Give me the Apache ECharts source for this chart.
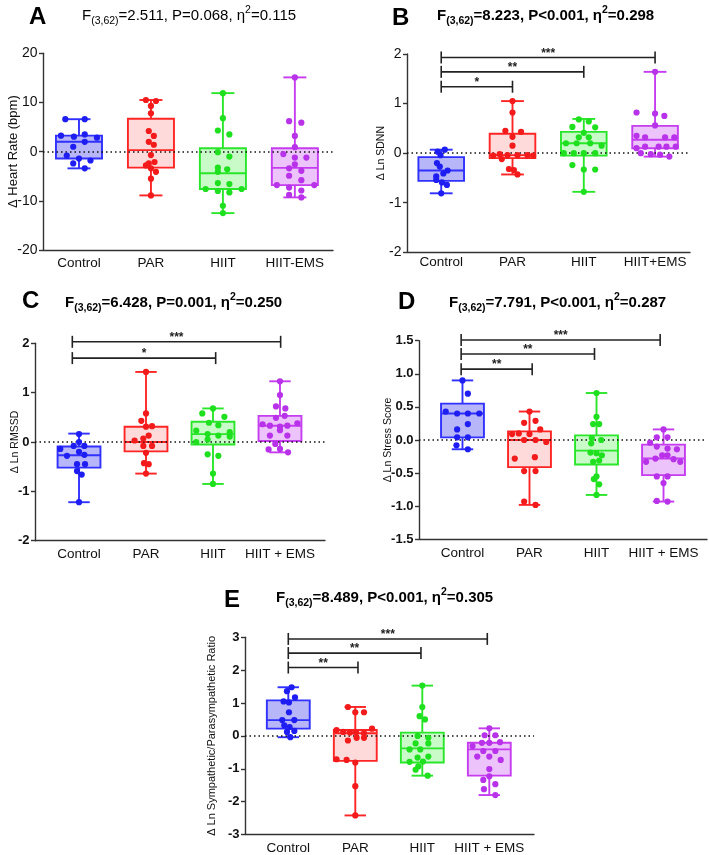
<!DOCTYPE html>
<html><head><meta charset="utf-8">
<script src="https://cdn.jsdelivr.net/npm/echarts@6/dist/echarts.min.js"></script>
<style>html,body{margin:0;padding:0;background:#fff}#c{width:709px;height:855px}</style>
</head><body><div id="c"></div>
<script>
// ---------------- DATA ----------------
const A_cats = ['Control','PAR','HIIT','HIIT-EMS'];
const B_cats = ['Control','PAR','HIIT','HIIT+EMS'];
const C_cats = ['Control','PAR','HIIT','HIIT + EMS'];
const D_cats = ['Control','PAR','HIIT','HIIT + EMS'];
const E_cats = ['Control','PAR','HIIT','HIIT + EMS'];

// box stats per group: [min, q1, median, q3, max]
const A_box = [[-3.4,-1.4,2.0,3.25,6.6],[-8.9,-3.25,0.3,6.7,10.5],[-12.5,-7.6,-4.4,0.7,11.9],[-9.3,-6.8,-3.3,0.7,15.1]];
const B_box = [[-0.81,-0.56,-0.35,-0.08,0.07],[-0.43,-0.1,-0.04,0.39,1.05],[-0.78,-0.05,0.2,0.43,0.69],[-0.07,0.1,0.27,0.55,1.64]];
const C_box = [[-1.22,-0.52,-0.27,-0.09,0.17],[-0.64,-0.19,0.0,0.31,1.42],[-0.85,-0.05,0.16,0.41,0.68],[-0.21,0.02,0.33,0.53,1.23]];
const D_box = [[-0.14,0.04,0.4,0.55,0.9],[-0.98,-0.41,0.0,0.13,0.43],[-0.83,-0.37,-0.16,0.07,0.71],[-0.93,-0.53,-0.28,-0.07,0.16]];
const E_box = [[-0.04,0.22,0.48,1.08,1.48],[-2.42,-0.76,0.08,0.18,0.88],[-1.21,-0.81,-0.38,0.1,1.53],[-1.8,-1.21,-0.41,-0.21,0.23]];

// individual values per group
const A_vals = [
 [6.6,6.6,3.25,3.05,3.5,2.85,2.0,1.0,-0.8,-1.4,-1.8,-2.4,-3.4],
 [10.5,10.3,9.3,7.8,4.2,3.2,2.0,1.4,-0.7,-2.1,-2.8,-2.4,-4.1,-3.4,-5.5,-8.9],
 [11.9,6.8,4.3,3.5,-0.1,-1.0,-3.25,-3.6,-4.1,-6.4,-6.6,-7.6,-8.0,-8.3,-7.6,-11.0,-12.5],
 [15.1,6.2,5.9,3.2,0.9,-0.5,-1.2,-1.2,-2.6,-3.4,-3.9,-4.9,-5.8,-6.8,-6.8,-7.3,-7.9,-8.8,-9.3]
];
const B_vals = [
 [0.07,0.03,-0.04,-0.2,-0.35,-0.41,-0.47,-0.54,-0.59,-0.64,-0.81,-0.27],
 [1.05,0.82,0.45,0.43,0.33,0.15,-0.05,-0.02,-0.04,-0.04,-0.04,-0.05,-0.12,-0.32,-0.34,-0.43],
 [0.68,0.64,0.53,0.52,0.41,0.32,0.32,0.2,0.2,0.2,0.15,0.0,0.0,0.0,0.0,-0.24,-0.33,-0.33,-0.78],
 [1.64,0.82,0.8,0.75,0.56,0.35,0.32,0.32,0.32,0.1,0.13,0.13,0.13,0.13,0.0,-0.02,-0.03,-0.07]
];
const C_vals = [
 [0.16,0.0,-0.08,-0.08,-0.14,-0.2,-0.26,-0.28,-0.45,-0.45,-0.59,-0.66,-1.22],
 [1.42,0.58,0.43,0.31,0.32,0.13,0.07,0.03,-0.08,-0.08,-0.22,-0.43,-0.45,-0.64],
 [0.68,0.58,0.51,0.39,0.34,0.23,0.16,0.13,0.2,0.11,0.0,0.05,-0.25,-0.28,-0.64,-0.85],
 [1.23,0.95,0.72,0.68,0.49,0.53,0.36,0.33,0.31,0.33,0.38,0.24,0.13,0.13,-0.04,-0.14,-0.21,-0.15]
];
const D_vals = [
 [0.9,0.7,0.43,0.4,0.4,0.4,0.24,0.16,0.04,0.04,-0.08,-0.14],
 [0.43,0.29,0.26,0.16,0.09,0.1,0.09,0.0,0.0,-0.03,-0.28,-0.26,-0.47,-0.47,-0.93,-0.98],
 [0.71,0.35,0.24,0.24,0.03,0.0,-0.05,-0.19,-0.2,-0.23,-0.33,-0.31,-0.55,-0.59,-0.67,-0.83],
 [0.16,0.04,0.04,-0.04,-0.1,-0.13,-0.14,-0.23,-0.23,-0.33,-0.28,-0.29,-0.33,-0.55,-0.55,-0.65,-0.92,-0.93]
];
const E_vals = [
 [1.48,1.36,1.17,1.05,1.02,0.72,0.48,0.48,0.32,0.27,0.12,0.15,-0.04],
 [0.88,0.72,0.72,0.18,0.12,0.1,0.1,0.08,0.22,-0.14,-0.06,-0.06,-0.71,-0.73,-0.81,-1.53,-2.42],
 [1.53,0.88,0.6,0.5,0.0,-0.06,-0.23,-0.23,-0.41,-0.41,-0.63,-0.66,-0.79,-0.78,-0.93,-1.03,-1.21],
 [0.23,0.02,0.02,-0.31,-0.21,-0.21,-0.19,-0.63,-0.63,-0.46,-0.46,-0.73,-1.01,-1.23,-1.34,-1.47,-1.62,-1.8]
];

// horizontal jitter of each point (category units)
const A_jit = [
 [-0.19,0.08,-0.25,-0.07,0.08,0.25,0.08,-0.08,-0.17,0.0,0.16,-0.08,0.08],
 [-0.07,0.07,0,0,-0.03,0.04,-0.03,0.04,0,0.05,-0.07,-0.03,0.07,0,0,0],
 [0,0,-0.07,0.09,-0.07,0.09,-0.07,0.06,-0.07,-0.07,0.09,-0.24,-0.07,0.09,0.26,0,0],
 [0,-0.08,0.09,0,0,-0.16,0.16,0,0,-0.08,0.09,-0.08,0.09,-0.25,0.27,-0.08,0.09,-0.08,0.09]
];
const B_jit = [
 [0.05,-0.05,-0.01,-0.06,0.09,0.03,-0.07,-0.07,0.01,0.08,0,-0.02],
 [0,0,-0.1,0.12,0,0,-0.27,-0.18,-0.07,0.07,0.21,0.29,-0.15,-0.05,0.02,0.07],
 [-0.07,0.07,-0.16,0.16,0,-0.07,0.07,-0.25,-0.1,0.09,0.25,-0.14,0,0.16,-0.28,-0.16,0,0.16,0],
 [0,-0.26,0,0.13,0,-0.26,-0.14,0.14,0.27,-0.26,-0.14,0.05,0.16,0.29,-0.2,-0.06,0.07,0.2]
];
const C_jit = [
 [0,0,-0.08,0.08,-0.28,0,0.08,-0.18,-0.03,0.09,-0.03,0.04,0],
 [0,0,-0.07,0,0.09,0.04,-0.04,-0.17,0.09,-0.04,0,-0.03,0.04,0],
 [0,-0.16,0.17,-0.06,0.08,-0.25,-0.08,0.08,0.25,0.25,-0.25,-0.08,-0.08,0.08,0,0],
 [0,0,-0.06,0.08,-0.06,0.07,-0.26,-0.15,0,0.11,0.26,0,-0.15,0.11,-0.07,0,0.12,-0.17]
];
const D_jit = [
 [0,0.08,-0.25,-0.08,0.08,0.25,0.08,-0.08,-0.08,0.08,-0.09,0.08],
 [0,0.09,-0.08,0.16,-0.26,-0.16,0,-0.08,0.09,0.25,-0.22,0.08,-0.08,0.09,-0.08,0.09],
 [0,0,-0.05,0.04,-0.07,0.07,-0.08,-0.09,0,0.08,-0.05,0.04,0,-0.04,0.04,0],
 [0,-0.1,0.06,-0.2,-0.1,0.06,0.2,-0.02,0.06,-0.26,-0.12,0.15,0.25,-0.1,0.06,0,-0.1,0.06]
];
const E_jit = [
 [0.05,-0.02,0.1,-0.07,0.01,0.01,-0.09,0.09,-0.06,0.02,-0.02,0.09,0.03],
 [-0.11,0,0.13,-0.28,-0.18,-0.08,0.01,0.13,0.25,-0.11,0.02,0.13,-0.28,-0.13,0,0,0],
 [0,0,-0.04,0.04,-0.07,0.09,-0.1,0.09,-0.19,-0.03,0.09,-0.07,-0.19,0.01,-0.06,-0.1,0.08],
 [0,-0.07,0.09,-0.25,-0.11,0,0.16,-0.18,0,-0.09,0.09,0.17,0,0,-0.09,0.09,-0.08,0.09]
];

// significance brackets: [fromCategory, toCategory, y]
const B_br = [[0,3,1.93],[0,2,1.64],[0,1,1.34]];
const B_stars = ['***','**','*'];
const C_br = [[-0.1,3.01,2.03],[-0.1,2.04,1.7]];
const C_stars = ['***','*'];
const D_br = [[-0.02,2.95,1.51],[-0.02,1.97,1.3],[-0.02,1.04,1.07]];
const D_stars = ['***','**','**'];
const E_br = [[0,2.97,2.95],[0,1.98,2.52],[0,1.04,2.08]];
const E_stars = ['***','**','**'];

// ANOVA statistics: [df, F, P, eta^2]
const A_stat = ['(3,62)','2.511','P=0.068','0.115'];
const B_stat = ['(3,62)','8.223','P<0.001','0.298'];
const C_stat = ['(3,62)','6.428','P=0.001','0.250'];
const D_stat = ['(3,62)','7.791','P<0.001','0.287'];
const E_stat = ['(3,62)','8.489','P<0.001','0.305'];

// y axis: [min, max, interval]
const A_y = [-20,20,10];
const B_y = [-2,2,1];
const C_y = [-2,2,1];
const D_y = [-1.5,1.5,0.5];
const E_y = [-3,3,1];

// ---------------- STYLE / LAYOUT ----------------
const FONT = 'Arial, "Liberation Sans", sans-serif';
const FILL = ['#b6b6f8','#ffdada','#c8fbc8','#ecc3fa'];
const STROKE = ['#3030ff','#ff2525','#2ae62a','#c63df0'];
const DOT = ['#1e1ef2','#f21a1a','#1fe01f','#b832ea'];
const BOX_W = 0.64, CAP_W = 0.32;

const PANELS = [
 {L:'A', cats:A_cats, box:A_box, vals:A_vals, jit:A_jit, br:null, stars:null, stat:A_stat, y:A_y,
  grid:{left:43, top:53.3, width:290, height:196.7}, x:[-0.5,3.53],
  yName:'Δ Heart Rate (bpm)', nameGap:23.5, nameSize:13, tick:{size:14, w:'normal'}, dec:0, catMargin:6.5,
  tBold:false, tPos:[82,5], lPos:[29,5.5]},
 {L:'B', cats:B_cats, box:B_box, vals:B_vals, jit:B_jit, br:B_br, stars:B_stars, stat:B_stat, y:B_y,
  grid:{left:407, top:54, width:283, height:198.3}, x:[-0.48,3.49],
  yName:'Δ Ln SDNN', nameGap:20.5, nameSize:10.5, tick:{size:14, w:'normal'}, dec:0, catMargin:2.5,
  tBold:true, tPos:[437,5], lPos:[392,6.3]},
 {L:'C', cats:C_cats, box:C_box, vals:C_vals, jit:C_jit, br:C_br, stars:C_stars, stat:C_stat, y:C_y,
  grid:{left:35, top:343.3, width:290, height:197.4}, x:[-0.657,3.672],
  yName:'Δ Ln RMSSD', nameGap:14.5, nameSize:10.5, tick:{size:13, w:'bold'}, dec:0, catMargin:7,
  tBold:true, tPos:[65,292], lPos:[22,289.7]},
 {L:'D', cats:D_cats, box:D_box, vals:D_vals, jit:D_jit, br:D_br, stars:D_stars, stat:D_stat, y:D_y,
  grid:{left:419, top:340.7, width:288, height:198.6}, x:[-0.649,3.649],
  yName:'Δ Ln Stress Score', nameGap:25, nameSize:10.5, tick:{size:13, w:'bold'}, dec:1, catMargin:6.5,
  tBold:true, tPos:[449,292], lPos:[398,290.5]},
 {L:'E', cats:E_cats, box:E_box, vals:E_vals, jit:E_jit, br:E_br, stars:E_stars, stat:E_stat, y:E_y,
  grid:{left:245, top:637.3, width:289, height:198.4}, x:[-0.646,3.667],
  yName:'Δ Ln Sympathetic/Parasympathetic Ratio', nameGap:28, nameSize:11, tick:{size:13, w:'bold'}, dec:0, catMargin:6.5,
  tBold:true, tPos:[276,587], lPos:[224,588.8]}
];

function boxRenderer(params, api) {
  const i = api.value(0);
  const p = k => api.coord([i, api.value(k)]);
  const pMin = p(1), pQ1 = p(2), pMed = p(3), pQ3 = p(4), pMax = p(5);
  const bw = api.size([BOX_W, 0])[0];
  const cw = api.size([CAP_W, 0])[0];
  const cx = pMed[0];
  const s = {stroke: STROKE[i], lineWidth: 1.9};
  return {type:'group', children:[
    {type:'rect', shape:{x:cx-bw/2, y:pQ3[1], width:bw, height:pQ1[1]-pQ3[1]}, style:{fill:FILL[i], stroke:STROKE[i], lineWidth:1.9}},
    {type:'line', shape:{x1:cx-bw/2, y1:pMed[1], x2:cx+bw/2, y2:pMed[1]}, style:s},
    {type:'line', shape:{x1:cx, y1:pQ3[1], x2:cx, y2:pMax[1]}, style:s},
    {type:'line', shape:{x1:cx, y1:pQ1[1], x2:cx, y2:pMin[1]}, style:s},
    {type:'line', shape:{x1:cx-cw/2, y1:pMax[1], x2:cx+cw/2, y2:pMax[1]}, style:s},
    {type:'line', shape:{x1:cx-cw/2, y1:pMin[1], x2:cx+cw/2, y2:pMin[1]}, style:s}
  ]};
}

function bracketRenderer(stars) {
  return function(params, api) {
    const a = api.coord([api.value(0), api.value(2)]);
    const b = api.coord([api.value(1), api.value(2)]);
    const s = {stroke:'#222', lineWidth:1.6};
    return {type:'group', children:[
      {type:'line', shape:{x1:a[0], y1:a[1], x2:b[0], y2:b[1]}, style:s},
      {type:'line', shape:{x1:a[0], y1:a[1]-6, x2:a[0], y2:a[1]+6}, style:s},
      {type:'line', shape:{x1:b[0], y1:b[1]-6, x2:b[0], y2:b[1]+6}, style:s},
      {type:'text', x:(a[0]+b[0])/2, y:a[1]-4, style:{text:stars[params.dataIndex], align:'center', verticalAlign:'middle', font:'bold 12px ' + FONT, fill:'#222'}}
    ]};
  };
}

const option = {animation:false, grid:[], xAxis:[], yAxis:[], series:[], title:[]};

PANELS.forEach((P, k) => {
  option.grid.push(Object.assign({containLabel:false}, P.grid));
  option.xAxis.push({
    type:'value', gridIndex:k, min:P.x[0], max:P.x[1],
    axisLine:{show:true, onZero:false, lineStyle:{color:'#333', width:1.4}},
    axisTick:{show:false}, splitLine:{show:false},
    axisLabel:{customValues:[0,1,2,3], formatter:v => P.cats[Math.round(v)], margin:P.catMargin,
      fontSize:13.5, color:'#111', fontFamily:FONT}
  });
  option.yAxis.push({
    type:'value', gridIndex:k, min:P.y[0], max:P.y[1], interval:P.y[2],
    axisLine:{show:true, onZero:false, lineStyle:{color:'#333', width:1.4}},
    axisTick:{show:true, length:4, lineStyle:{color:'#333', width:1.4}},
    splitLine:{show:false},
    axisLabel:{margin:5.5, fontSize:P.tick.size, fontWeight:P.tick.w, color:'#111', fontFamily:FONT,
      formatter:v => P.dec ? v.toFixed(P.dec) : String(v)},
    name:P.yName, nameLocation:'middle', nameGap:P.nameGap, nameRotate:90, nameMoveOverlap:false,
    nameTextStyle:{fontSize:P.nameSize, color:'#111', fontFamily:FONT}
  });
  // boxes
  option.series.push({
    type:'custom', xAxisIndex:k, yAxisIndex:k, z:2,
    data:P.box.map((b, i) => [i].concat(b)),
    renderItem:boxRenderer,
    markLine:{silent:true, symbol:['none','none'], label:{show:false},
      lineStyle:{type:[1.5,3], color:'#111', width:1.5}, data:[{yAxis:0}]}
  });
  // points
  P.vals.forEach((arr, i) => {
    option.series.push({
      type:'scatter', xAxisIndex:k, yAxisIndex:k, z:10,
      symbol:'circle', symbolSize:6.2,
      itemStyle:{color:DOT[i], opacity:1},
      data:arr.map((v, j) => [i + P.jit[i][j], v])
    });
  });
  // brackets
  if (P.br) {
    option.series.push({
      type:'custom', xAxisIndex:k, yAxisIndex:k, z:8, clip:false,
      data:P.br, renderItem:bracketRenderer(P.stars)
    });
  }
  // titles
  const w = P.tBold ? 'bold' : 'normal';
  option.title.push({
    text:'{m|F}{s|' + P.stat[0] + '}{m|=' + P.stat[1] + ', ' + P.stat[2] + ', η}{u|2}{m|=' + P.stat[3] + '}',
    left:P.tPos[0], top:P.tPos[1], padding:0,
    textStyle:{rich:{
      m:{fontSize:15, fontWeight:w, fontFamily:FONT, color:'#000', lineHeight:22},
      s:{fontSize:10.5, fontWeight:w, fontFamily:FONT, color:'#000', lineHeight:11, verticalAlign:'bottom'},
      u:{fontSize:10.5, fontWeight:w, fontFamily:FONT, color:'#000', lineHeight:15, verticalAlign:'top'}
    }}
  });
  option.title.push({
    text:P.L, left:P.lPos[0], top:P.lPos[1], padding:0,
    textStyle:{fontSize:24, fontWeight:'bold', fontFamily:FONT, color:'#000', lineHeight:24}
  });
});

const chart = echarts.init(document.getElementById('c'), null, {renderer:'canvas'});
chart.setOption(option);
</script>
</body></html>
